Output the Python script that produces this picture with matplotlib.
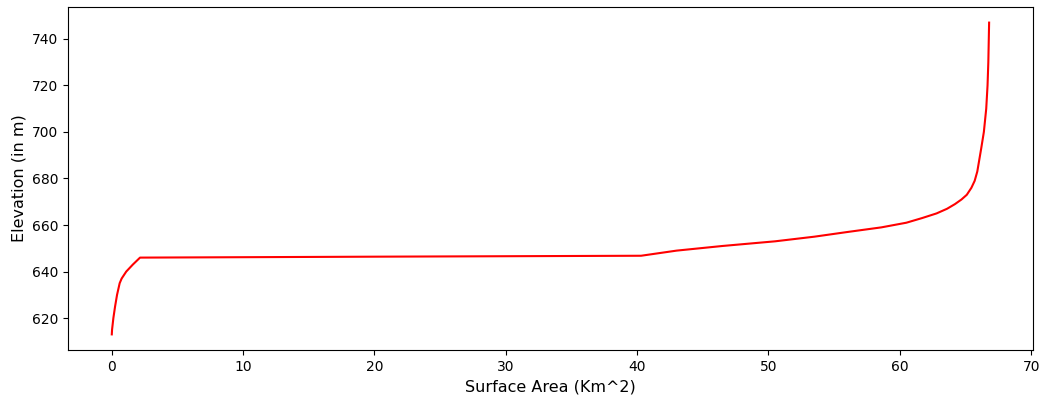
import matplotlib
matplotlib.use("Agg")
import matplotlib.pyplot as plt

# Elevation-area curve
surface_area = [0.0, 0.02, 0.12, 0.25, 0.4, 0.6, 0.75, 1.1, 1.6, 2.15,
                20.0, 40.3, 43.0, 46.5, 50.5, 53.5, 56.0, 58.6, 60.5, 61.7,
                62.8, 63.6, 64.2, 64.7, 65.1, 65.45, 65.7, 65.9, 66.05, 66.2,
                66.4, 66.58, 66.68, 66.74, 66.8]
elevation = [613, 615, 620, 625, 630, 635, 637, 640, 643, 646,
             646.4, 646.8, 649, 651, 653, 655, 657, 659, 661, 663,
             665, 667, 669, 671, 673, 676, 679, 683, 688, 693,
             700, 710, 720, 730, 747]

fig = plt.figure(figsize=(10.45, 3.96), dpi=100)
ax = fig.add_axes([0.065, 0.1162, 0.9235, 0.8661])
ax.plot(surface_area, elevation, color="red", linewidth=1.5)
ax.set_xlabel("Surface Area (Km^2)", fontsize=11.5)
ax.set_ylabel("Elevation (in m)", fontsize=11.5)
ax.tick_params(labelsize=10)

fig.savefig("out.png", dpi=100)
